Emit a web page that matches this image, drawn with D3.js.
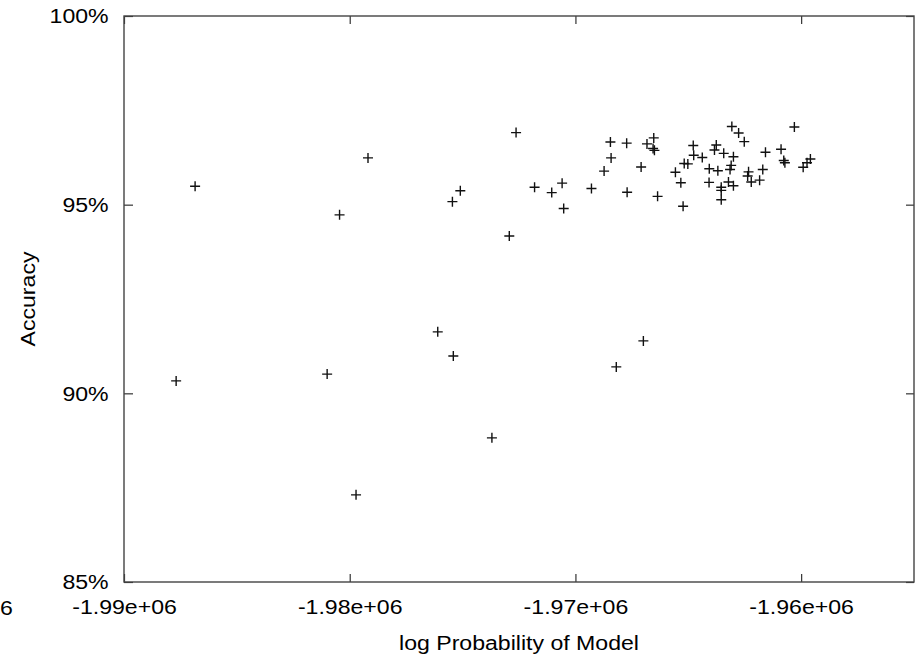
<!DOCTYPE html>
<html>
<head>
<meta charset="utf-8">
<script src="https://cdn.jsdelivr.net/npm/d3@7"></script>
<style>
    body { margin: 0; background: #fff; }
    svg { display: block; }
    text { font-family: "Liberation Sans", Arial, sans-serif; fill: #000; }
</style>
</head>
<body>
<div id="chart"></div>
<script>

// log probability of each model and its accuracy (%)
let logProb = [
    -1987690, -1986850, -1981000, -1980450, -1979720, -1979190, -1976100, -1975450, -1975410, -1975100,
    -1973700, -1972930, -1972630, -1971810, -1971050, -1970590, -1970520, -1969290, -1968730, -1968420,
    -1968450, -1968190, -1967730, -1967710, -1967090, -1966990, -1966830, -1966530, -1966560, -1966500,
    -1966360, -1965570, -1965330, -1965230, -1965180, -1965020, -1964780, -1964760, -1964380, -1964070,
    -1964080, -1963760, -1963840, -1963690, -1963540, -1963540, -1963540, -1963430, -1963220, -1963100,
    -1963150, -1963070, -1963000, -1963000, -1962770, -1962520, -1962330, -1962370, -1962210, -1961840,
    -1961700, -1961580, -1960890, -1960770, -1960720, -1960300, -1959910, -1959740, -1959590
];
let accuracy = [
    90.33, 95.49, 90.51, 94.73, 87.31, 96.24, 91.63, 95.08, 90.99, 95.37,
    88.82, 94.17, 96.91, 95.46, 95.32, 95.57, 94.90, 95.43, 95.89, 96.24,
    96.66, 90.70, 96.63, 95.33, 96.00, 91.39, 96.61, 96.77, 96.49, 96.44,
    95.22, 95.86, 95.58, 94.96, 96.09, 96.08, 96.57, 96.31, 96.25, 95.95,
    95.59, 96.58, 96.45, 95.90, 95.46, 95.38, 95.13, 96.36, 95.60, 96.04,
    95.93, 97.07, 96.27, 95.50, 96.90, 96.67, 95.87, 95.76, 95.60, 95.65,
    95.93, 96.39, 96.47, 96.17, 96.11, 97.06, 95.99, 96.11, 96.21
];

let xDomain = [-1990000, -1955000];
let yDomain = [85, 100];
let xTicks = [-1990000, -1980000, -1970000, -1960000];
let yTicks = [85, 90, 95, 100];

let xTitle = "log Probability of Model";
let yTitle = "Accuracy";

let width = 918, height = 658;
let margin = {top: 16, right: 4, bottom: 76, left: 124};
let w = width - margin.left - margin.right;
let h = height - margin.top - margin.bottom;
let stretch = "scale(1.1,1)";

let svg = d3.select("#chart").append("svg")
    .attr("width", width)
    .attr("height", height);

let g = svg.append("g")
    .attr("transform", "translate(" + margin.left + "," + margin.top + ")");

let x = d3.scaleLinear().domain(xDomain).range([0, w]);
let y = d3.scaleLinear().domain(yDomain).range([h, 0]);

let fmtX = (v) => (v / 1e6).toFixed(2) + "e+06";
let fmtY = (v) => v + "%";

// axes: ticks point inward, mirrored on top and right
let styleAxis = function(sel){
    sel.select(".domain").remove();
    sel.selectAll(".tick line").attr("stroke", "#333").attr("stroke-width", 1.2);
    sel.selectAll(".tick text")
        .attr("transform", stretch)
        .style("font-size", "21px")
        .style("font-family", "'Liberation Sans', Arial, sans-serif")
        .attr("fill", "#000");
};

g.append("g")
    .attr("transform", "translate(0," + h + ")")
    .call(d3.axisBottom(x).tickValues(xTicks).tickFormat(fmtX).tickSize(-8).tickPadding(17))
    .call(styleAxis);

g.append("g")
    .call(d3.axisTop(x).tickValues(xTicks).tickFormat("").tickSize(-8))
    .call(styleAxis);

g.append("g")
    .call(d3.axisLeft(y).tickValues(yTicks).tickFormat(fmtY).tickSize(-9).tickPadding(14))
    .call(styleAxis);

g.append("g")
    .attr("transform", "translate(" + w + ",0)")
    .call(d3.axisRight(y).tickValues(yTicks).tickFormat("").tickSize(-8))
    .call(styleAxis);

// frame
g.append("rect")
    .attr("x", 0).attr("y", 0)
    .attr("width", w).attr("height", h)
    .attr("fill", "none")
    .attr("stroke", "#444")
    .attr("stroke-width", 1.4);

// points drawn as "+"
g.selectAll(".pt")
    .data(logProb.map((v, i) => ({lp: v, acc: accuracy[i]})))
    .enter().append("path")
    .attr("class", "pt")
    .attr("transform", (d) => "translate(" + x(d.lp) + "," + y(d.acc) + ")")
    .attr("d", "M-5,0H5M0,-5V5")
    .attr("stroke", "#111")
    .attr("stroke-width", 1.4)
    .attr("fill", "none");

// titles
svg.append("text")
    .attr("transform", "translate(" + (margin.left + w / 2) + "," + (height - 8) + ") " + stretch)
    .attr("text-anchor", "middle")
    .style("font-size", "21px")
    .text(xTitle);

svg.append("text")
    .attr("transform", "translate(35," + (margin.top + h / 2) + ") rotate(-90) " + stretch)
    .attr("text-anchor", "middle")
    .style("font-size", "21px")
    .text(yTitle);

// stray "6" at the far left, level with the x tick labels
svg.append("text")
    .attr("transform", "translate(0," + (height - 43) + ") " + stretch)
    .attr("text-anchor", "start")
    .style("font-size", "21px")
    .text("6");

</script>
</body>
</html>
